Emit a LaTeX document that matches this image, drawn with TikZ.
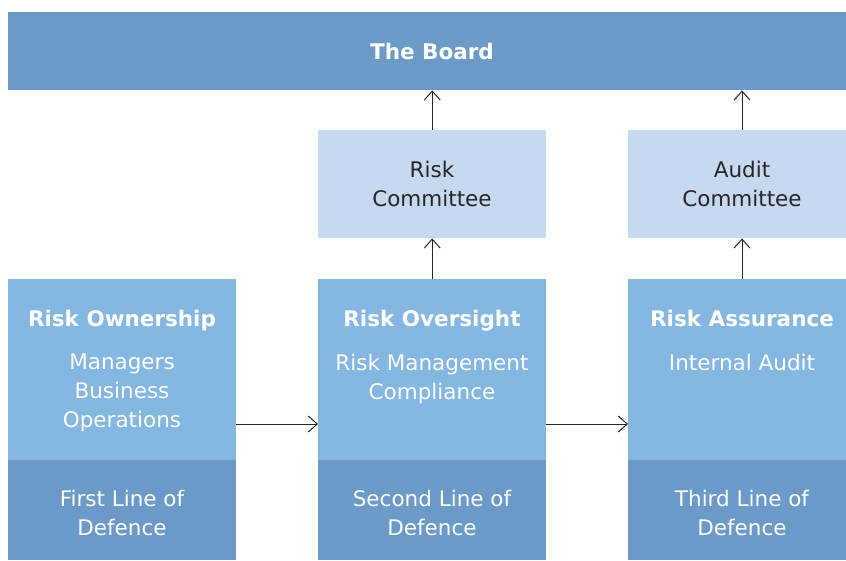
\documentclass[tikz,border=0pt]{standalone}
\usepackage{fontspec}
\setmainfont{DejaVu Sans}
\usetikzlibrary{arrows.meta}
\definecolor{darkb}{HTML}{6B9AC8}
\definecolor{midb}{HTML}{84B8E2}
\definecolor{lightb}{HTML}{C6D9F1}
\definecolor{ink}{HTML}{262626}
\tikzset{
  box/.style={rectangle, inner sep=0pt, anchor=north west, draw=none},
  lbl/.style={inner sep=0pt, align=center, anchor=north, font=\fontsize{21.5}{29}\selectfont},
  ttl/.style={inner sep=0pt, align=center, anchor=base, font=\fontsize{21.5}{29}\selectfont\bfseries, text=white},
  arr/.style={draw=ink, line width=1pt, -{Straight Barb[length=9pt,width=16pt,line width=1pt]}},
}
\begin{document}
\begin{tikzpicture}[x=1pt,y=-1pt]
\useasboundingbox (0,0) rectangle (846,560);
% board
\node[box, fill=darkb, minimum width=838pt, minimum height=78pt] (board) at (8,12) {};
\node[ttl] (boardt) at (432,59) {The Board};
% committees
\node[box, fill=lightb, minimum width=228pt, minimum height=108pt] (rc) at (318,130) {};
\node[lbl, text=ink] (rct) at (432,161) {Risk\\Committee};
\node[box, fill=lightb, minimum width=218pt, minimum height=108pt] (ac) at (628,130) {};
\node[lbl, text=ink] (act) at (742,161) {Audit\\Committee};
% columns upper
\node[box, fill=midb, minimum width=228pt, minimum height=181pt] (own) at (8,279) {};
\node[box, fill=midb, minimum width=228pt, minimum height=181pt] (ovs) at (318,279) {};
\node[box, fill=midb, minimum width=218pt, minimum height=181pt] (asr) at (628,279) {};
% columns lower
\node[box, fill=darkb, minimum width=228pt, minimum height=100pt] (l1) at (8,460) {};
\node[box, fill=darkb, minimum width=228pt, minimum height=100pt] (l2) at (318,460) {};
\node[box, fill=darkb, minimum width=218pt, minimum height=100pt] (l3) at (628,460) {};
% titles
\node[ttl] (ownt) at (122,326) {Risk Ownership};
\node[ttl] (ovst) at (432,326) {Risk Oversight};
\node[ttl] (asrt) at (742,326) {Risk Assurance};
% sub texts
\node[lbl, text=white] (owns) at (122,354) {Managers\\Business\\Operations};
\node[lbl, text=white] (ovss) at (432,354) {Risk Management\\Compliance};
\node[lbl, text=white] (asrs) at (742,354) {Internal Audit};
% lower texts
\node[lbl, text=white] (l1t) at (122,490) {First Line of\\Defence};
\node[lbl, text=white] (l2t) at (432,490) {Second Line of\\Defence};
\node[lbl, text=white] (l3t) at (742,490) {Third Line of\\Defence};
% arrows
\draw[arr] (own.east |- 0,424) -- (ovs.west |- 0,424);
\draw[arr] (ovs.east |- 0,424) -- (asr.west |- 0,424);
\draw[arr] (ovs.north) -- (rc.south);
\draw[arr] (rc.north) -- (board.south -| rc.north);
\draw[arr] (asr.north -| act.north) -- (ac.south -| act.north);
\draw[arr] (ac.north -| act.north) -- (board.south -| act.north);
\end{tikzpicture}
\end{document}
